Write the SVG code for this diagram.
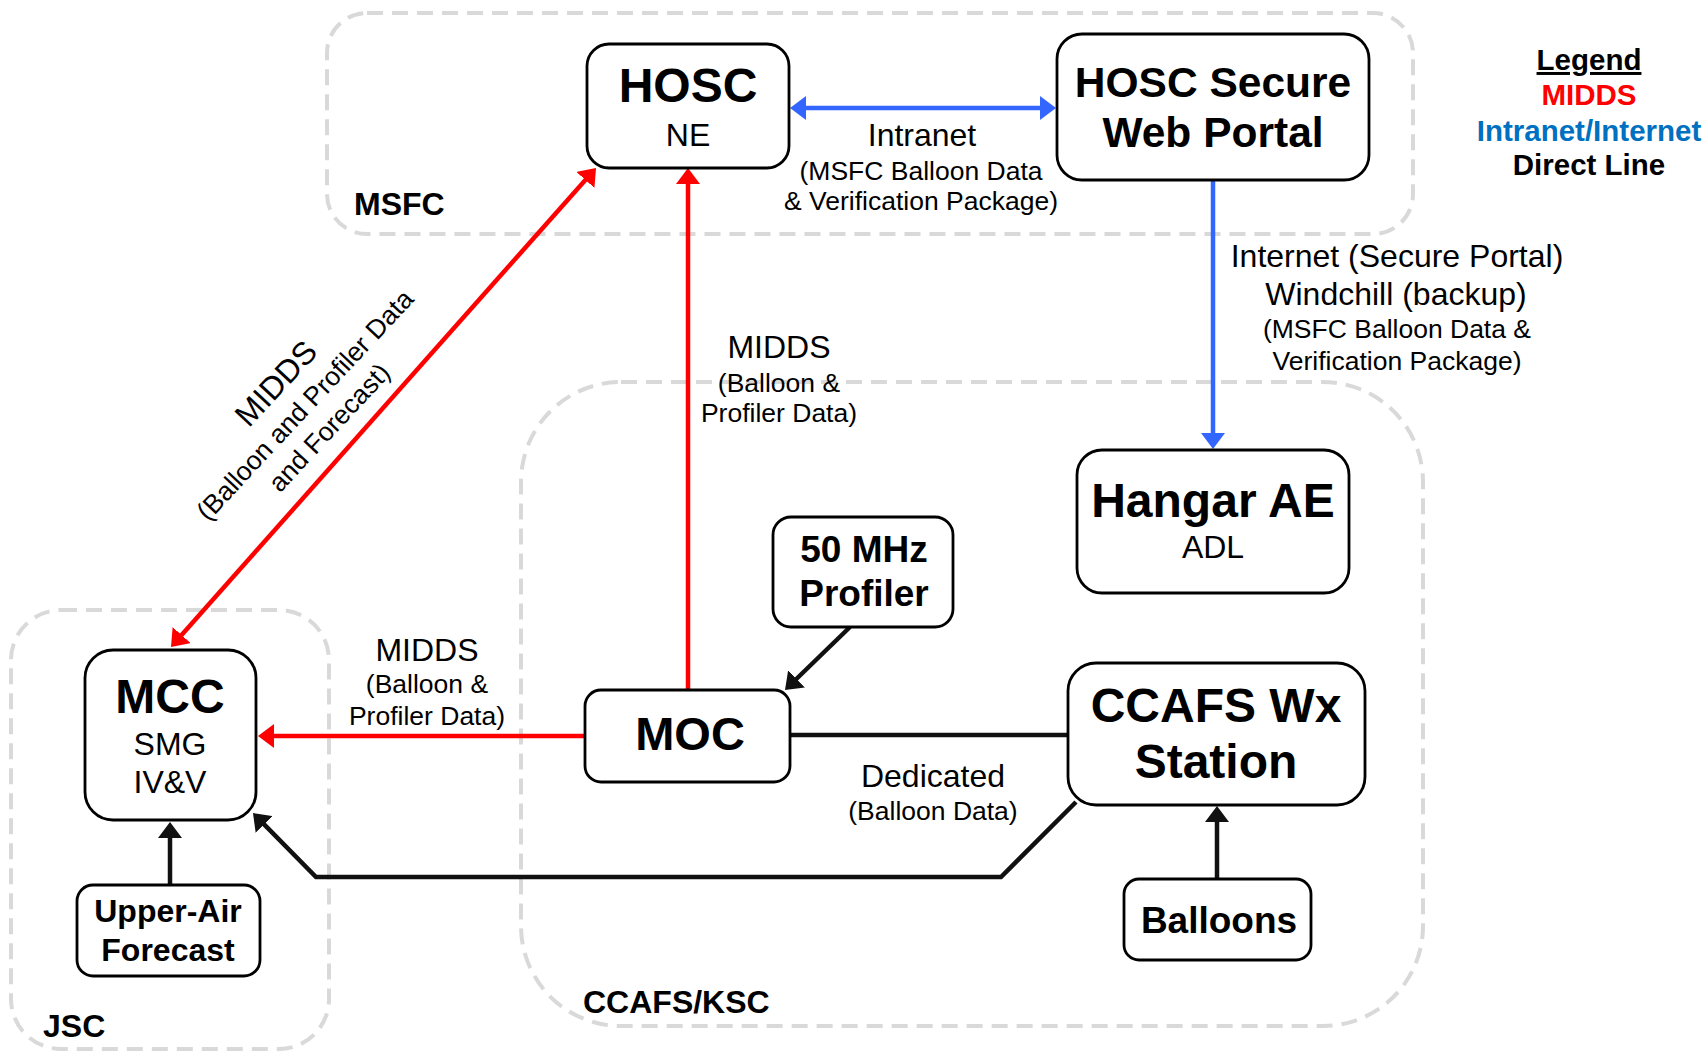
<svg xmlns="http://www.w3.org/2000/svg" width="1708" height="1052" viewBox="0 0 1708 1052">
<style>
text{font-family:"Liberation Sans",Arial,sans-serif;fill:#000}
.grp{fill:none;stroke:#d9d9d9;stroke-width:4;stroke-dasharray:16 9}
.node{fill:#fff;stroke:#000;stroke-width:2.8}
.t{font-weight:bold;text-anchor:middle}
.s{text-anchor:middle;font-size:32px}
.lab{text-anchor:middle;font-size:32px}
.sub{text-anchor:middle;font-size:26.5px}
.gl{font-weight:bold;font-size:32px}
.red{fill:none;stroke:#ff0000;stroke-width:4.5}
.blue{fill:none;stroke:#3366ff;stroke-width:4.5}
.blk{fill:none;stroke:#111;stroke-width:4.5}
</style>
<defs>
<marker id="ar" markerUnits="userSpaceOnUse" markerWidth="16" markerHeight="24" refX="11" refY="12" orient="auto-start-reverse"><path d="M0,0 L16,12 L0,24 z" fill="#ff0000"/></marker>
<marker id="ab" markerUnits="userSpaceOnUse" markerWidth="16" markerHeight="24" refX="11" refY="12" orient="auto-start-reverse"><path d="M0,0 L16,12 L0,24 z" fill="#3366ff"/></marker>
<marker id="ak" markerUnits="userSpaceOnUse" markerWidth="16" markerHeight="24" refX="11" refY="12" orient="auto-start-reverse"><path d="M0,0 L16,12 L0,24 z" fill="#111"/></marker>
</defs>
<rect width="1708" height="1052" fill="#fff"/>

<g id="group-msfc">
<rect class="grp" x="327" y="13" width="1086" height="221" rx="40"/>
<text class="gl" x="354" y="215">MSFC</text>
</g>
<g id="group-ccafs-ksc">
<rect class="grp" x="521" y="382" width="902" height="644" rx="100"/>
<text class="gl" x="583" y="1013">CCAFS/KSC</text>
</g>
<g id="group-jsc">
<rect class="grp" x="11" y="610" width="318" height="439" rx="50"/>
<text class="gl" x="43" y="1037">JSC</text>
</g>

<g id="connectors">
<path class="blue" d="M795,108 L1051,108" marker-start="url(#ab)" marker-end="url(#ab)"/>
<path class="blue" d="M1213,180 L1213,444" marker-end="url(#ab)"/>
<path class="red" d="M592.7,171.7 L174.3,643.3" marker-start="url(#ar)" marker-end="url(#ar)"/>
<path class="red" d="M688,690 L688,173" marker-end="url(#ar)"/>
<path class="red" d="M585,736 L263,736" marker-end="url(#ar)"/>
<path class="blk" d="M790,735 L1068,735"/>
<path class="blk" d="M1076,802 L1001,877 L316,877 L256.5,816.6" marker-end="url(#ak)"/>
<path class="blk" d="M850,627 L788.6,686.5" marker-end="url(#ak)"/>
<path class="blk" d="M1217,879 L1217,811" marker-end="url(#ak)"/>
<path class="blk" d="M170,885 L170,827" marker-end="url(#ak)"/>
<text class="lab" x="922" y="146">Intranet</text>
<text class="sub" x="921" y="180">(MSFC Balloon Data</text>
<text class="sub" x="921" y="210">&amp; Verification Package)</text>
<text class="lab" x="1397" y="267">Internet (Secure Portal)</text>
<text class="lab" x="1396" y="305">Windchill (backup)</text>
<text class="sub" x="1397" y="338">(MSFC Balloon Data &amp;</text>
<text class="sub" x="1397" y="370">Verification Package)</text>
<text class="lab" x="779" y="358">MIDDS</text>
<text class="sub" x="779" y="392">(Balloon &amp;</text>
<text class="sub" x="779" y="422">Profiler Data)</text>
<text class="lab" x="427" y="661">MIDDS</text>
<text class="sub" x="427" y="693">(Balloon &amp;</text>
<text class="sub" x="427" y="725">Profiler Data)</text>
<text class="lab" x="933" y="787">Dedicated</text>
<text class="sub" x="933" y="820">(Balloon Data)</text>
<g transform="translate(305,405) rotate(-47)">
<text class="lab" x="-4" y="-25">MIDDS</text>
<text class="sub" x="0" y="9">(Balloon and Profiler Data</text>
<text class="sub" x="0" y="42">and Forecast)</text>
</g>
</g>

<g id="node-hosc">
<rect class="node" x="587" y="44" width="202" height="124" rx="22"/>
<text class="t" x="688" y="102" font-size="48">HOSC</text>
<text class="s" x="688" y="146">NE</text>
</g>
<g id="node-hosc-portal">
<rect class="node" x="1057" y="34" width="312" height="146" rx="25"/>
<text class="t" x="1213" y="97" font-size="42.5">HOSC Secure</text>
<text class="t" x="1213" y="147" font-size="42.5">Web Portal</text>
</g>
<g id="node-hangar">
<rect class="node" x="1077" y="450" width="272" height="143" rx="25"/>
<text class="t" x="1213" y="517" font-size="48">Hangar AE</text>
<text class="s" x="1213" y="558">ADL</text>
</g>
<g id="node-profiler">
<rect class="node" x="773" y="517" width="180" height="110" rx="18"/>
<text class="t" x="864" y="562" font-size="37">50 MHz</text>
<text class="t" x="864" y="606" font-size="37">Profiler</text>
</g>
<g id="node-moc">
<rect class="node" x="585" y="690" width="205" height="92" rx="16"/>
<text class="t" x="690" y="750" font-size="47">MOC</text>
</g>
<g id="node-ccafs-wx">
<rect class="node" x="1068" y="663" width="297" height="142" rx="28"/>
<text class="t" x="1216" y="722" font-size="48">CCAFS Wx</text>
<text class="t" x="1216" y="778" font-size="48">Station</text>
</g>
<g id="node-balloons">
<rect class="node" x="1124" y="879" width="187" height="81" rx="15"/>
<text class="t" x="1219" y="933" font-size="37">Balloons</text>
</g>
<g id="node-mcc">
<rect class="node" x="85" y="650" width="171" height="170" rx="28"/>
<text class="t" x="170" y="713" font-size="48">MCC</text>
<text class="s" x="170" y="755">SMG</text>
<text class="s" x="170" y="793">IV&amp;V</text>
</g>
<g id="node-upper-air">
<rect class="node" x="77" y="885" width="183" height="91" rx="16"/>
<text class="t" x="168" y="922" font-size="32">Upper-Air</text>
<text class="t" x="168" y="961" font-size="32">Forecast</text>
</g>

<g id="legend" font-weight="bold" font-size="29.5" text-anchor="middle">
<text x="1589" y="70" text-decoration="underline">Legend</text>
<text x="1589" y="105" style="fill:#ff0000">MIDDS</text>
<text x="1589" y="141" style="fill:#0070c0">Intranet/Internet</text>
<text x="1589" y="175">Direct Line</text>
</g>
</svg>
